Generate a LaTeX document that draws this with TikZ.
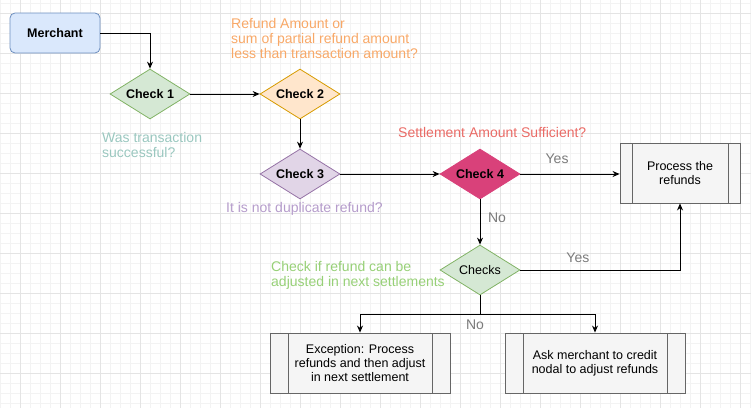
\documentclass[tikz,border=0pt]{standalone}
\usepackage{fontspec}
\setmainfont{Liberation Sans}
\usepackage{xcolor}
\usepackage{tikz}
\usetikzlibrary{shapes.geometric,arrows.meta}

\definecolor{gridmin}{HTML}{F3F3F3}
\definecolor{gridmaj}{HTML}{E4E4E4}
\definecolor{merchfill}{HTML}{DAE8FC}
\definecolor{merchline}{HTML}{6C8EBF}
\definecolor{greenfill}{HTML}{D5E8D4}
\definecolor{greenline}{HTML}{82B366}
\definecolor{orangefill}{HTML}{FFE6CC}
\definecolor{orangeline}{HTML}{D79B00}
\definecolor{purplefill}{HTML}{E1D5E7}
\definecolor{purpleline}{HTML}{9673A6}
\definecolor{pinkfill}{HTML}{D9417A}
\definecolor{procfill}{HTML}{F5F5F5}
\definecolor{procline}{HTML}{666666}
\definecolor{noteorange}{HTML}{F8A867}
\definecolor{noteteal}{HTML}{9AC7BF}
\definecolor{notepurple}{HTML}{B59CCB}
\definecolor{notered}{HTML}{EA6B66}
\definecolor{notegreen}{HTML}{97D077}
\definecolor{lblgrey}{HTML}{7A7A7A}

\tikzset{
  arr/.style={-{Stealth[length=7pt,width=6pt]}, line width=0.9pt},
  chk/.style={diamond, aspect=1.6, minimum width=80pt, minimum height=50pt,
    inner sep=0pt, line width=0.8pt, font=\fontsize{12.5}{14}\selectfont\bfseries},
  procbox/.style={rectangle, draw=procline, fill=procfill, line width=0.9pt,
    minimum height=60pt, align=center, inner sep=0pt,
    font=\fontsize{12.5}{14}\selectfont,
    path picture={\draw[procline, line width=0.9pt]
      ([xshift=#1]path picture bounding box.north west) --
      ([xshift=#1]path picture bounding box.south west)
      ([xshift=-#1]path picture bounding box.north east) --
      ([xshift=-#1]path picture bounding box.south east);}},
  procbox/.default=18pt,
  note/.style={anchor=west, align=left, inner sep=0pt, font=\fontsize{14}{15}\selectfont},
  lbl/.style={text=lblgrey, inner sep=0pt, font=\fontsize{14}{15}\selectfont},
}

\begin{document}
\begin{tikzpicture}[x=1pt, y=-1pt, font=\fontsize{12}{14}\selectfont]

\useasboundingbox (0,0) rectangle (751,408);

% grid
\foreach \a in {0,10,...,750} {
	\draw[gridmin, line width=0.6pt] (\a,0)--(\a,408);
}
\foreach \a in {3,13,...,403} {
	\draw[gridmin, line width=0.6pt] (0,\a)--(751,\a);
}
\foreach \a in {20,60,...,740} {
	\draw[gridmaj, line width=0.6pt] (\a,0)--(\a,408);
}
\foreach \a in {13,53,...,373} {
	\draw[gridmaj, line width=0.6pt] (0,\a)--(751,\a);
}

% shapes
\node[rectangle, rounded corners=5pt, draw=merchline, fill=merchfill, line width=0.8pt,
  minimum width=90pt, minimum height=40pt, font=\fontsize{12.5}{14}\selectfont\bfseries]
  (merchant) at (55,33) {Merchant};

\node[chk, draw=greenline, fill=greenfill] (check1) at (150,94) {Check 1};
\node[chk, draw=orangeline, fill=orangefill] (check2) at (300,94) {Check 2};
\node[chk, draw=purpleline, fill=purplefill] (check3) at (300,174) {Check 3};
\node[chk, draw=pinkfill, fill=pinkfill] (check4) at (480,174) {Check 4};
\node[chk, draw=greenline, fill=greenfill, font=\fontsize{12.5}{14}\selectfont] (checks) at (480,270) {Checks};

\node[procbox=12pt, minimum width=120pt] (process) at (680,173) {Process the\\refunds};
\node[procbox, minimum width=180pt] (exception) at (360,363) {Exception: Process\\refunds and then adjust\\in next settlement};
\node[procbox, minimum width=180pt] (askmerch) at (595,363) {Ask merchant to credit\\nodal to adjust refunds};

% notes
\node[note, text=noteorange] (noteamt) at (231,38) {Refund Amount or\\sum of partial refund amount\\less than transaction amount?};
\node[note, text=noteteal] (notetxn) at (102,144.5) {Was transaction\\successful?};
\node[note, text=notepurple] (notedup) at (226,209) {It is not duplicate refund?};
\node[note, text=notered] (notesettle) at (398,132) {Settlement Amount Sufficient?};
\node[note, text=notegreen] (noteadj) at (271,275.5) {Check if refund can be\\adjusted in next settlements};

% connectors
\draw[arr] (merchant.east) -| (check1.north);
\draw[arr] (check1.east) -- (check2.west);
\draw[arr] (check2.south) -- (check3.north);
\draw[arr] (check3.east) -- (check4.west);
\draw[arr] (check4.east) -- (check4.east -| process.west) node[lbl, pos=0.37, yshift=15pt] {Yes};
\draw[arr] (check4.south) -- (checks.north) node[lbl, pos=0.4, xshift=17pt] {No};
\draw[arr] (checks.east) -| (process.south) node[lbl, pos=0.18, yshift=12pt] {Yes};

\coordinate (split) at ([yshift=-19pt]checks.south);
\draw[line width=0.9pt] (checks.south) -- (split);
\draw[arr] (split) -| (exception.north);
\draw[arr] (split) -| (askmerch.north);
\node[lbl] (nolbl) at ([xshift=-5pt, yshift=-10pt]split) {No};

\end{tikzpicture}
\end{document}
